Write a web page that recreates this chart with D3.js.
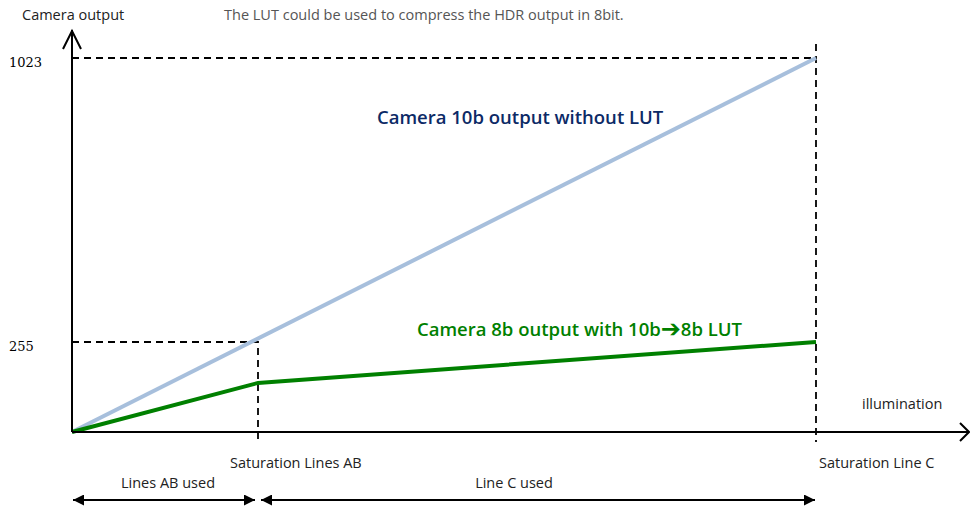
<!DOCTYPE html>
<html>
<head>
<meta charset="utf-8">
<script src="https://cdn.jsdelivr.net/npm/d3@7"></script>
<style>
  body { margin: 0; background: #fff; }
  svg { display: block; font-family: "Open Sans", "Noto Sans", sans-serif; }
</style>
</head>
<body>
<div id="app"></div>
<script>
// illumination in units of "Saturation Lines AB"
const satLevels = [1, 4];
const satLabels = ['Saturation Lines AB', 'Saturation Line C'];
const yTicks = [255, 1023];
// camera 10b output without LUT
const rawSeries = [[0, 0], [4, 1023]];
// camera 8b output with 10b->8b LUT
const lutSeries = [[0, 0], [1, 139], [4, 255]];
const rangeLabels = ['Lines AB used', 'Line C used'];

const W = 970, H = 511;
const svg = d3.select('#app').append('svg').attr('width', W).attr('height', H);

const defs = svg.append('defs');
defs.append('marker').attr('id', 'fill').attr('viewBox', '0 0 10 10')
  .attr('refX', 10).attr('refY', 5).attr('markerWidth', 11).attr('markerHeight', 11)
  .attr('markerUnits', 'userSpaceOnUse').attr('orient', 'auto-start-reverse')
  .append('path').attr('d', 'M0,0L10,5L0,10Z').attr('fill', '#000');

const x = d3.scaleLinear().domain([0, 4]).range([72, 816]);
// schematic, piecewise vertical scale
const y = d3.scaleLinear().domain([0, 255, 1023]).range([432, 342, 58]);

const ink = '#000';
const small = 14.5;

// dashed guides
const g = svg.append('g').attr('stroke', ink).attr('stroke-width', 1.8)
  .attr('stroke-dasharray', '7,5').attr('fill', 'none');
g.append('path').attr('d', `M${x(0)},${y(255)}H${x(1)}V${y(0) + 10}`);
g.append('path').attr('d', `M${x(0)},${y(1023)}H${x(4)}`);
g.append('path').attr('d', `M${x(4)},${y(1023) - 14}V${y(0) + 10}`);

// data lines
const line = d3.line().x(d => x(d[0])).y(d => y(d[1]));
svg.append('path').datum(rawSeries).attr('d', line)
  .attr('fill', 'none').attr('stroke', '#a7bfdc').attr('stroke-width', 4);
svg.append('path').datum(lutSeries).attr('d', line)
  .attr('fill', 'none').attr('stroke', '#008000').attr('stroke-width', 4);

// axes with open arrow heads
const ax = svg.append('g').attr('stroke', ink).attr('stroke-width', 2).attr('fill', 'none');
ax.append('path').attr('d', `M${x(0)},${y(0)}V30`);
ax.append('path').attr('d', `M${x(0) - 9},49L${x(0)},31L${x(0) + 9},49`);
ax.append('path').attr('d', `M${x(0)},${y(0)}H968`);
ax.append('path').attr('d', `M960,423L969,432L960,441`);

// y tick labels
svg.selectAll('.ytick').data(yTicks).join('text')
  .attr('x', 9).attr('y', d => y(d) + 9)
  .attr('font-family', 'DejaVu Serif, serif').attr('font-size', 13)
  .text(d => d);

// saturation labels
svg.selectAll('.sat').data(satLevels).join('text')
  .attr('x', (d, i) => i === 0 ? x(d) - 28 : x(d) + 3).attr('y', 468)
  .attr('font-size', small).attr('fill', '#222')
  .text((d, i) => satLabels[i]);

// ranges under the axis
const ranges = [[0, 1], [1, 4]];
svg.selectAll('.rng').data(ranges).join('line')
  .attr('x1', (d, i) => x(d[0]) + (i ? 3 : 1)).attr('x2', (d, i) => x(d[1]) - (i ? 1 : 3))
  .attr('y1', 500).attr('y2', 500)
  .attr('stroke', ink).attr('stroke-width', 2)
  .attr('marker-start', 'url(#fill)').attr('marker-end', 'url(#fill)');
svg.selectAll('.rngl').data(ranges).join('text')
  .attr('x', (d, i) => (x(d[0]) + x(d[1])) / 2 + (i ? -23 : 3)).attr('y', 488)
  .attr('text-anchor', 'middle').attr('font-size', small).attr('fill', '#222')
  .text((d, i) => rangeLabels[i]);

// text labels
svg.append('text').attr('x', 22).attr('y', 20).attr('font-size', small).attr('fill', '#222')
  .text('Camera output');
svg.append('text').attr('x', 224).attr('y', 20).attr('font-size', small).attr('fill', '#555')
  .text('The LUT could be used to compress the HDR output in 8bit.');
svg.append('text').attr('x', 862).attr('y', 409).attr('font-size', small).attr('fill', '#222')
  .text('illumination');
svg.append('text').attr('x', 377).attr('y', 124).attr('font-size', 18.5).attr('font-weight', 600)
  .attr('fill', '#0c2a66').text('Camera 10b output without LUT');
const gl = svg.append('text').attr('x', 417).attr('y', 336).attr('font-size', 18.5).attr('font-weight', 600)
  .attr('fill', '#008000');
gl.append('tspan').text('Camera 8b output with 10b');
gl.append('tspan').attr('font-family', 'DejaVu Sans').attr('font-weight', 'bold').attr('font-size', 24)
  .attr('dy', 1).text('\u2794');
gl.append('tspan').attr('dy', -1).text('8b LUT');
</script>
</body>
</html>
